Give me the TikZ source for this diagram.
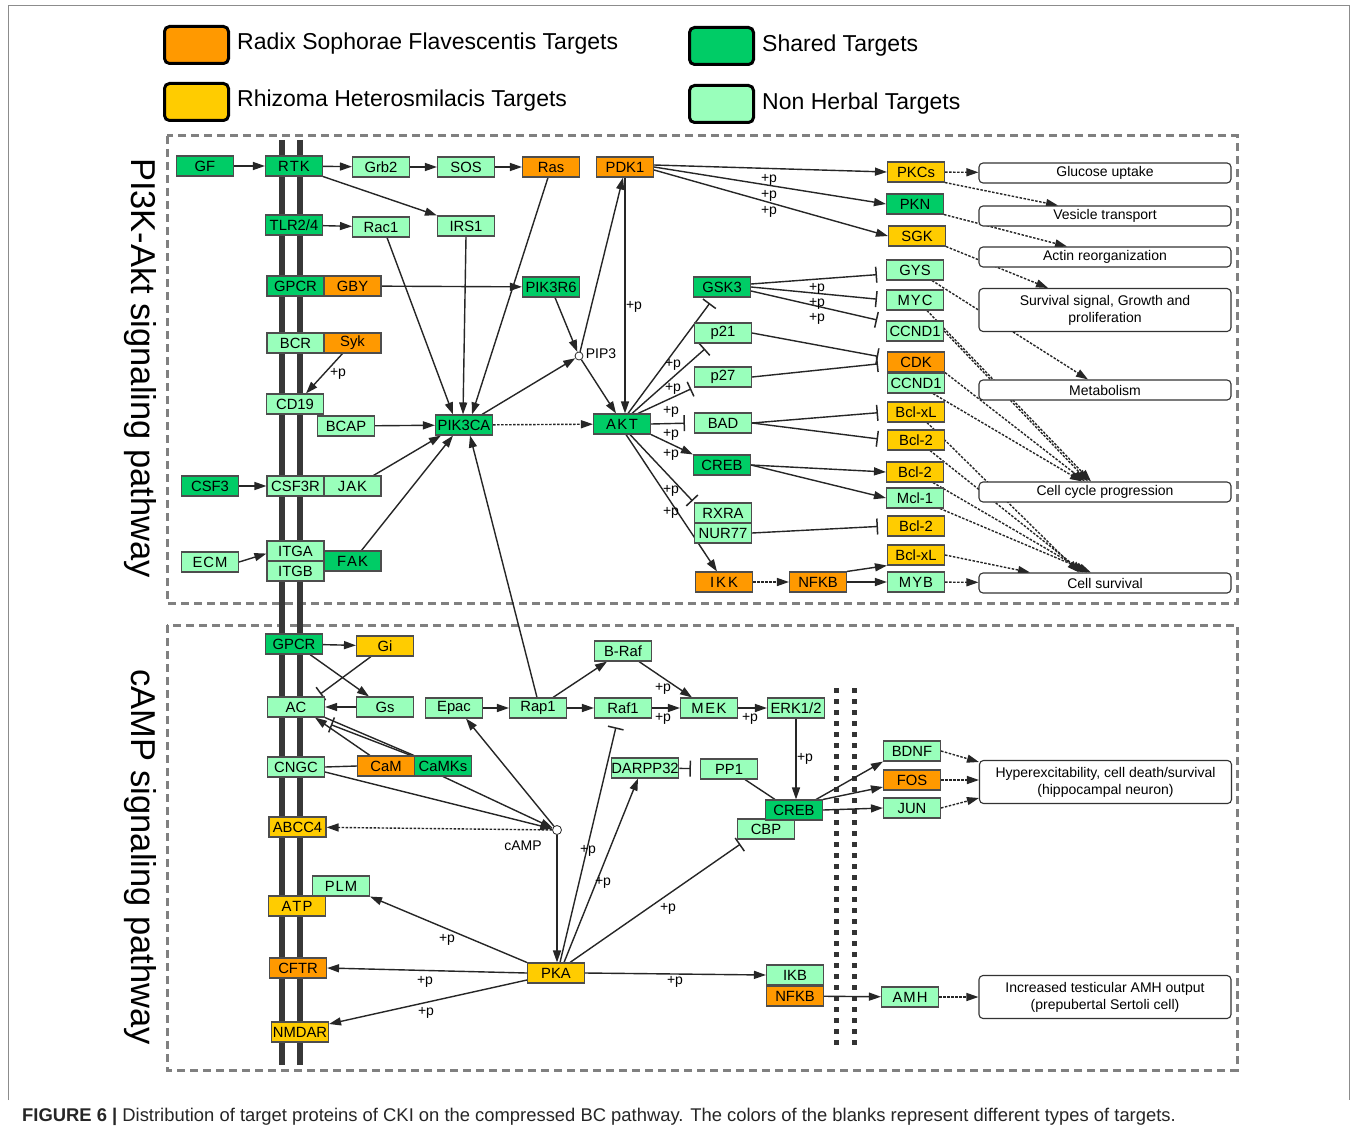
\documentclass[tikz,border=0pt]{standalone}
\usepackage{fontspec}
\setmainfont{Liberation Sans}
\usetikzlibrary{arrows.meta,calc}
\definecolor{cO}{HTML}{FF9900}
\definecolor{cY}{HTML}{FFCC00}
\definecolor{cG}{HTML}{00CC66}
\definecolor{cL}{HTML}{99FFBB}
\definecolor{bord}{HTML}{4D4D4D}
\pgfdeclarelayer{back}
\pgfdeclarelayer{edges}
\pgfsetlayers{back,edges,main}
\begin{document}
\begin{tikzpicture}[x=1pt,y=-1pt,
 box/.style={draw=bord,line width=1.1pt,minimum width=57pt,minimum height=20pt,inner sep=0pt,font=\fontsize{14.8}{16}\selectfont},
 nO/.style={box,fill=cO}, nY/.style={box,fill=cY}, nG/.style={box,fill=cG}, nL/.style={box,fill=cL},
 proc/.style={draw=black!80,line width=1.1pt,rounded corners=4pt,fill=white,minimum width=252pt,minimum height=20pt,inner sep=0pt,align=center,font=\fontsize{14}{17}\selectfont},
 arr/.style={-{Triangle[length=12pt,width=8pt]},line width=1.4pt,draw=black!85},
 darr/.style={arr,dash pattern=on 2.5pt off 1.5pt},
 inh/.style={-{Bar[width=16pt,line width=1.5pt]},line width=1.4pt,draw=black!85,shorten >=9pt},
 pl/.style={line width=1.4pt,draw=black!85},
 lab/.style={font=\fontsize{14}{16}\selectfont,inner sep=0pt},
 sect/.style={draw=black!50,line width=3pt,dash pattern=on 8pt off 5pt},
 leg/.style={draw=black,line width=3pt,rounded corners=5pt,minimum width=64pt,minimum height=37pt,inner sep=0pt},
 legt/.style={anchor=west,font=\fontsize{23}{25}\selectfont,inner sep=0pt}
 ]
\useasboundingbox (0,0) rectangle (1356,1134);

\begin{pgfonlayer}{back}
\fill[white] (0,0) rectangle (1356,1134);
\draw[black!45,line width=1pt] (8,1100) -- (8,6) -- (1349,6) -- (1349,1100);
\draw[sect] (167,136) rectangle (1237,603);
\draw[sect] (167,625) rectangle (1237,1070);
\draw[line width=6pt,draw=black!78] (282,140) -- (282,1065);
\draw[line width=6pt,draw=black!78] (300,140) -- (300,1065);
\draw[line width=5pt,draw=black!80,dash pattern=on 5pt off 6pt] (836,688) -- (836,1047);
\draw[line width=5pt,draw=black!80,dash pattern=on 5pt off 6pt] (854,688) -- (854,1047);
\end{pgfonlayer}

% legend
\node[leg,fill=cO] (lgO) at (196.5,45) {};
\node[legt] (tO) at (237,44) {Radix Sophorae Flavescentis Targets};
\node[leg,fill=cY] (lgY) at (196.5,102) {};
\node[legt] (tY) at (237,101) {Rhizoma Heterosmilacis Targets};
\node[leg,fill=cG] (lgG) at (721.5,46) {};
\node[legt] (tG) at (762,46) {Shared Targets};
\node[leg,fill=cL] (lgL) at (721.5,104) {};
\node[legt] (tL) at (762,104) {Non Herbal Targets};

% section titles
\node[rotate=-90,font=\fontsize{34.5}{36}\selectfont,inner sep=0pt] (t1) at (140,368) {PI3K-Akt signaling pathway};
\node[rotate=-90,font=\fontsize{34.5}{36}\selectfont,inner sep=0pt] (t2) at (140,857) {cAMP signaling pathway};

% ---------- PI3K-Akt nodes
\node[nG] (GF) at (205,166) {GF};
\node[nG] (RTK) at (294,166) {R\kern1pt T\kern1pt K};
\node[nL] (Grb2) at (381,167) {Grb2};
\node[nL] (SOS) at (466,167) {SOS};
\node[nO] (Ras) at (551,167) {Ras};
\node[nO] (PDK1) at (625,167) {PDK1};
\node[nG] (TLR) at (294,225) {TLR2/4};
\node[nL] (Rac1) at (381,227) {Rac1};
\node[nL] (IRS1) at (466,226) {IRS1};
\node[nG] (GPCRa) at (295.5,286) {GPCR};
\node[nO] (GBY) at (352.5,286) {GBY};
\node[nG] (PIK3R6) at (551,287) {PIK3R6};
\node[nL] (BCR) at (295.5,343) {BCR};
\node[nO] (Syk) at (352.5,343) {Syk};
\node[nL] (CD19) at (295,404) {CD19};
\node[nL] (BCAP) at (346,426) {BCAP};
\node[nG] (PIK3CA) at (464,425) {PIK3CA};
\node[nG] (AKT) at (622,424) {A\kern1.5pt K\kern1.5pt T};
\node[nG] (CSF3) at (210,486) {CSF3};
\node[nL] (CSF3R) at (295.5,486) {CSF3R};
\node[nL] (JAK) at (352.5,486) {J\kern1pt A\kern1pt K};
\node[nL] (ECM) at (210,562) {E\kern1pt C\kern1pt M};
\node[nL] (ITGA) at (295.5,551) {ITGA};
\node[nL] (ITGB) at (295.5,571) {ITGB};
\node[nG] (FAK) at (352.5,561) {F\kern1pt A\kern1pt K};
\node[nG] (GSK3) at (722,287) {GSK3};
\node[nL] (p21) at (723,333) {p21};
\node[nL] (p27) at (723,377) {p27};
\node[nL] (BAD) at (723,423) {BAD};
\node[nG] (CREB1) at (722,465) {CREB};
\node[nL] (RXRA) at (723,513) {RXRA};
\node[nL] (NUR77) at (723,533) {NUR77};
\node[nO] (IKK) at (724,582) {I\kern2pt K\kern2pt K};
\node[nO] (NFKB1) at (818,582) {NFKB};
\node[nY] (PKCs) at (916,172) {PKCs};
\node[nG] (PKN) at (915,204) {PKN};
\node[nY] (SGK) at (917,236) {SGK};
\node[nL] (GYS) at (915,270) {GYS};
\node[nL] (MYC) at (915,300) {M\kern1pt Y\kern1pt C};
\node[nL] (CCND1a) at (915,331) {CCND1};
\node[nO] (CDK) at (916,362) {CDK};
\node[nL] (CCND1b) at (916,383) {CCND1};
\node[nY] (BclxL1) at (916,412) {Bcl-xL};
\node[nY] (Bcl2a) at (916,440) {Bcl-2};
\node[nY] (Bcl2b) at (915,472) {Bcl-2};
\node[nL] (Mcl1) at (915,498) {Mcl-1};
\node[nY] (Bcl2c) at (916,526) {Bcl-2};
\node[nY] (BclxL2) at (916,555) {Bcl-xL};
\node[nL] (MYB) at (916,582) {M\kern1pt Y\kern1pt B};

\node[proc] (glu) at (1105,173) {Glucose uptake};
\node[proc] (ves) at (1105,216) {Vesicle transport};
\node[proc] (act) at (1105,257) {Actin reorganization};
\node[proc,minimum height=43pt] (surv) at (1105,310) {Survival signal, Growth and\\proliferation};
\node[proc] (met) at (1105,390) {Metabolism};
\node[proc] (cyc) at (1105,492) {Cell cycle progression};
\node[proc] (csurv) at (1105,583) {Cell survival};

\node[circle,draw=black!85,fill=white,line width=0.8pt,inner sep=0pt,minimum size=8pt] (PIP3) at (579,356) {};
\node[lab] (PIP3t) at (601,354) {PIP3};

% ---------- cAMP nodes
\node[nG] (GPCRb) at (294,644) {GPCR};
\node[nY] (Gi) at (385,646) {Gi};
\node[nL] (AC) at (296,707) {AC};
\node[nL] (Gs) at (385,707) {Gs};
\node[nL] (Epac) at (454,708) {Epac};
\node[nL] (Rap1) at (538,708) {Rap1};
\node[nL] (BRaf) at (623,651) {B-Raf};
\node[nL] (Raf1) at (623,708) {Raf1};
\node[nL] (MEK) at (709,708) {M\kern1.5pt E\kern1.5pt K};
\node[nL] (ERK) at (796,708) {ERK1/2};
\node[nL] (CNGC) at (296,767) {CNGC};
\node[nO] (CaM) at (386,766) {CaM};
\node[nG] (CaMKs) at (443,766) {CaMKs};
\node[nL] (DARPP) at (645,768) {DARPP32};
\node[nL] (PP1) at (729,769) {PP1};
\node[nL] (CBP) at (766,829) {CBP};
\node[nG] (CREB2) at (794,810) {CREB};
\node[nL] (BDNF) at (912,751) {BDNF};
\node[nO] (FOS) at (912,780) {FOS};
\node[nL] (JUN) at (912,808) {JUN};
\node[proc,minimum height=43pt] (hyper) at (1105.5,782) {Hyperexcitability, cell death/survival\\(hippocampal neuron)};
\node[nY] (ABCC4) at (297.5,827) {ABCC4};
\node[circle,draw=black!85,fill=white,line width=0.8pt,inner sep=0pt,minimum size=9pt] (cAMP) at (557,830) {};
\node[lab] (cAMPt) at (523,846) {cAMP};
\node[nL] (PLM) at (341,886) {P\kern1pt L\kern1pt M};
\node[nY] (ATP) at (297,906) {A\kern1pt T\kern1pt P};
\node[nO] (CFTR) at (298,968) {CFTR};
\node[nY] (NMDAR) at (300,1032) {NMDAR};
\node[nY] (PKA) at (556,973) {PKA};
\node[nL] (IKB) at (795,975) {IKB};
\node[nO] (NFKB2) at (795,996) {NFKB};
\node[nL] (AMH) at (910,997) {A\kern1pt M\kern1pt H};
\node[proc,minimum height=43pt] (amhout) at (1105,997) {Increased testicular AMH output\\(prepubertal Sertoli cell)};

% caption
\node[anchor=west,inner sep=0pt,font=\fontsize{18.4}{20}\selectfont,text=black!85] (cap) at (22,1117) {\textbf{FIGURE 6 |} Distribution of target proteins of CKI on the compressed BC pathway. The colors of the blanks represent different types of targets.};

\begin{pgfonlayer}{edges}
\draw[arr] (GF) -- (RTK);
\draw[arr] (RTK) -- (Grb2);
\draw[arr] (Grb2) -- (SOS);
\draw[arr] (SOS) -- (Ras);
\draw[arr] (RTK.south east) -- (IRS1.north west);
\draw[arr] (TLR) -- (Rac1);
\draw[arr] (GBY) -- (PIK3R6);
\draw[arr] ([xshift=6pt]Rac1.south) -- ([xshift=-11pt]PIK3CA.north);
\draw[arr] (IRS1.south) -- ([xshift=-1pt]PIK3CA.north);
\draw[arr] ([xshift=-3pt]Ras.south) -- ([xshift=8pt]PIK3CA.north);
\draw[arr] ([xshift=4pt]PIK3R6.south) -- (PIP3);
\draw[arr] (PIP3) -- ([xshift=-2pt]PDK1.south);
\draw[arr] (PIP3) -- ([xshift=-6pt]AKT.north);
\draw[arr] ([xshift=18pt]PIK3CA.north) -- (PIP3);
\draw[arr] (PDK1.south) -- (PDK1.south |- AKT.north);
\draw[arr] ([yshift=2pt]PDK1.east) -- (PKCs.west);
\draw[arr] (PDK1.east) -- (PKN.west);
\draw[arr] ([yshift=-3pt]PDK1.east) -- (SGK.west);
\draw[darr] (PIK3CA) -- (AKT);
\draw[arr] ([xshift=-10pt]Syk.south) -- ([xshift=11pt]CD19.north);
\draw[arr] (BCAP) -- (PIK3CA);
\draw[arr] ([xshift=21pt]JAK.north) -- ([xshift=6pt]PIK3CA.south west);
\draw[arr] ([xshift=9pt]FAK.north) -- ([xshift=-11pt]PIK3CA.south);
\draw[arr] (CSF3) -- (CSF3R);
\draw[arr] (ECM.east) -- ([yshift=8pt]ITGA.south west);
\draw[arr] ([xshift=-1pt]Rap1.north) -- ([xshift=6pt]PIK3CA.south);
% AKT fan
\draw[inh,shorten >=7pt] ([xshift=6pt]AKT.north) -- ([xshift=-8pt]GSK3.south);
\draw[inh,shorten >=8pt] ([xshift=10pt]AKT.north) -- ([xshift=-12pt]p21.south);
\draw[inh,shorten >=3pt] ([xshift=16pt]AKT.north) -- (p27.south west);
\draw[inh] (AKT.east) -- (BAD.west);
\draw[arr] (AKT.south east) -- (CREB1.north west);
\draw[inh,shorten >=2pt] ([xshift=8pt]AKT.south) -- (RXRA.north west);
\draw[arr] ([xshift=4pt]AKT.south) -- ([xshift=-7pt]IKK.north);
% right side
\draw[inh] ([yshift=3pt]GSK3.east) -- ([yshift=-4pt]GYS.west);
\draw[inh] (GSK3.east) -- (MYC.west);
\draw[inh] ([yshift=-4pt]GSK3.east) -- ([yshift=9pt]CCND1a.west);
\draw[inh] (p21.east) -- ([yshift=4pt]CDK.west);
\draw[inh] (p27.east) -- ([yshift=-1pt]CDK.west);
\draw[inh] (BAD.east) -- (BclxL1.west);
\draw[inh] (BAD.east) -- (Bcl2a.west);
\draw[arr] (CREB1.east) -- (Bcl2b.west);
\draw[arr] (CREB1.east) -- (Mcl1.west);
\draw[inh] (NUR77.east) -- (Bcl2c.west);
\draw[darr] (IKK) -- (NFKB1);
\draw[arr] (NFKB1.north east) -- (BclxL2.south west);
\draw[arr] (NFKB1) -- (MYB);
\draw[darr] (MYB) -- (csurv);
\draw[darr] (PKCs) -- (glu);
\draw[darr] (PKCs.south east) -- ([xshift=-47pt]ves.north);
\draw[darr] (PKN.south east) -- ([xshift=-38pt]act.north);
\draw[darr] (SGK.south east) -- ([xshift=-57pt]surv.north);
\draw[darr] ([xshift=17pt]GYS.south) -- ([xshift=-17pt]met.north);
\draw[darr] ([xshift=12pt]MYC.south) -- ([xshift=-14pt]cyc.north);
\draw[darr] (CCND1a.east) -- ([xshift=-17pt]cyc.north);
\draw[darr] (CDK.south east) -- ([xshift=-20pt]cyc.north);
\draw[darr] ([xshift=17pt]CCND1b.south) -- ([xshift=-23pt]cyc.north);
\draw[darr] ([xshift=11pt]BclxL1.south) -- ([xshift=-26pt]csurv.north);
\draw[darr] ([xshift=14pt]Bcl2a.south) -- ([xshift=-22pt]csurv.north);
\draw[darr] ([xshift=18pt]Bcl2b.south) -- ([xshift=-18pt]csurv.north);
\draw[darr] ([xshift=25pt]Mcl1.south) -- ([xshift=-14pt]csurv.north);
\draw[darr] (BclxL2.east) -- ([xshift=-75pt]csurv.north);
% cAMP section
\draw[arr] (GPCRb) -- (Gi);
\draw[arr] ([xshift=16pt]GPCRb.south) -- ([xshift=-16pt]Gs.north);
\draw[inh,shorten >=4pt] ([xshift=-14pt]Gi.south) -- ([xshift=-8pt]AC.north east);
\draw[arr] (Gs) -- (AC);
\draw[arr] ([xshift=-16pt]CaM.north) -- ([xshift=19pt]AC.south);
\draw[pl] (CaMKs.north west) -- (AC.south east);
\draw[inh,shorten >=3pt] ([xshift=-3pt]CaMKs.north west) -- ([xshift=3pt,yshift=-6pt]AC.south east);
\draw[pl] (CNGC.east) -- (CaM.west);
\draw[arr] ([yshift=-5pt]CNGC.east) -- (cAMP);
\draw[arr] (CaMKs.south) -- (cAMP);
\draw[darr] (cAMP) -- (ABCC4);
\draw[arr] (cAMP) -- ([xshift=12pt]Epac.south);
\draw[arr] (cAMP) -- (cAMP |- PKA.north);
\draw[arr] (Epac) -- (Rap1);
\draw[arr] (Rap1) -- (Raf1);
\draw[arr] ([xshift=15pt]Rap1.north) -- ([xshift=-16pt]BRaf.south);
\draw[arr] ([xshift=16pt]BRaf.south) -- ([xshift=-17pt]MEK.north);
\draw[arr] (Raf1) -- (MEK);
\draw[arr] (MEK) -- (ERK);
\draw[arr] (ERK.south) -- (ERK.south |- CREB2.north);
\draw[inh] ([xshift=4pt]PKA.north) -- ([xshift=-5pt]Raf1.south);
\draw[arr] ([xshift=8pt]PKA.north) -- ([xshift=-7pt]DARPP.south);
\draw[inh] (DARPP) -- (PP1);
\draw[pl] ([xshift=16pt]PP1.south) -- ([xshift=-19pt]CREB2.north);
\draw[inh,shorten >=8pt] ([xshift=14pt]PKA.north) -- ([xshift=10pt]CBP.south west);
\draw[arr] ([xshift=-7pt]CREB2.north east) -- (BDNF.south west);
\draw[arr] (CREB2.north east) -- ([yshift=-7pt]FOS.west);
\draw[arr] (CREB2.east) -- (JUN.west);
\draw[darr] (BDNF.east) -- ([yshift=20pt]hyper.west);
\draw[darr] (FOS.east) -- ([yshift=2pt]hyper.west);
\draw[darr] (JUN.east) -- ([yshift=-16pt]hyper.west);
\draw[arr] (PKA.north west) -- (PLM.south east);
\draw[arr] (PKA.west) -- (CFTR.east);
\draw[arr] ([yshift=-7pt]PKA.west) -- ([yshift=8pt]NMDAR.east);
\draw[arr] (PKA.east) -- (IKB.west);
\draw[arr] (NFKB2) -- (AMH);
\draw[darr] (AMH) -- (amhout);
\end{pgfonlayer}

% +p labels
\foreach \px/\py [count=\i] in {769/180,769/196,769/212,634/307,817/289,817/304,817/319,338/374,673/365,673/389,671/412,671/435,671/455,671/491,671/513,663/689,663/719,750/719,805/759,588/851,603/883,668/909,447/940,425/982,426/1013,675/982}
  \node[lab] (pl\i) at (\px,\py) {+p};
\end{tikzpicture}
\end{document}
